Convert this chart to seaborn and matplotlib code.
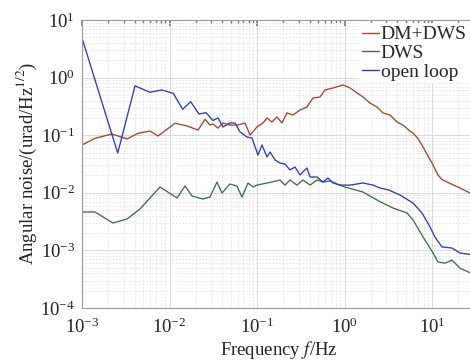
import numpy as np
import pandas as pd
import matplotlib
matplotlib.use("Agg")
import matplotlib.pyplot as plt
import seaborn as sns
from matplotlib.ticker import LogLocator, NullFormatter

# ---- data ----
f_dm = [0.001, 0.00141, 0.0022, 0.00327, 0.00437, 0.00598, 0.0074, 0.01156, 0.0158, 0.0212,
        0.0255, 0.029, 0.0314, 0.0358, 0.0408, 0.049, 0.0606, 0.0729, 0.0832, 0.1,
        0.117, 0.130, 0.148, 0.169, 0.193, 0.220, 0.258, 0.310, 0.372, 0.436,
        0.525, 0.598, 0.739, 0.962, 1.156, 1.39, 1.63, 1.95, 2.35, 2.75,
        3.31, 3.98, 4.66, 5.6, 6.07, 6.9, 7.9, 8.9, 10.0, 11.7, 13.0, 14.8, 20.9, 27.2]
v_dm = [0.0676, 0.0883, 0.105, 0.086, 0.108, 0.118, 0.097, 0.161, 0.145, 0.123,
        0.189, 0.150, 0.156, 0.133, 0.163, 0.150, 0.150, 0.163, 0.1007, 0.139,
        0.163, 0.199, 0.170, 0.207, 0.163, 0.243, 0.224, 0.274, 0.309, 0.442,
        0.46, 0.61, 0.66, 0.745, 0.66, 0.541, 0.46, 0.362, 0.309, 0.243,
        0.224, 0.170, 0.150, 0.118, 0.109, 0.088, 0.0624, 0.045, 0.0329, 0.0204, 0.017, 0.0154, 0.0121, 0.0099]

f_dws = [0.001, 0.00141, 0.00226, 0.00327, 0.0046, 0.00778, 0.0122, 0.01503, 0.0181, 0.0241,
         0.029, 0.0349, 0.0398, 0.049, 0.059, 0.0674, 0.0789, 0.090, 0.1, 0.130,
         0.148, 0.183, 0.209, 0.238, 0.286, 0.336, 0.404, 0.485, 0.568, 0.683,
         1.01, 1.63, 2.55, 3.58, 5.18, 6.07, 7.9, 10.3, 11.7, 14.1, 16.9, 20.9, 27.2]
v_dws = [0.00464, 0.00464, 0.00299, 0.00351, 0.00523, 0.0126, 0.00813, 0.0131, 0.0088, 0.0078,
         0.00845, 0.0154, 0.0099, 0.0142, 0.0131, 0.00845, 0.0148, 0.0126, 0.0136, 0.0148,
         0.0154, 0.0167, 0.0136, 0.0167, 0.0136, 0.0167, 0.0136, 0.0167, 0.0154, 0.016,
         0.0126, 0.0103, 0.0070, 0.00545, 0.00446, 0.00337, 0.00171, 0.0009, 0.00063, 0.0006, 0.00068, 0.00049, 0.00041]

f_ol = [0.001, 0.00256, 0.00404, 0.00598, 0.00815, 0.01104, 0.01416, 0.01747, 0.0217, 0.0261,
        0.0314, 0.0358, 0.0408, 0.0491, 0.0561, 0.064, 0.0769, 0.0877, 0.1026, 0.114,
        0.130, 0.141, 0.161, 0.183, 0.209, 0.238, 0.272, 0.310, 0.372, 0.404,
        0.485, 0.568, 0.648, 0.739, 0.889, 1.156, 1.627, 2.12, 2.55, 3.2,
        4.3, 6.07, 7.69, 9.5, 10.8, 13.0, 16.9, 20.9, 27.2]
v_ol = [4.87, 0.049, 0.72, 0.556, 0.61, 0.533, 0.282, 0.382, 0.233, 0.246,
        0.18, 0.20, 0.139, 0.163, 0.163, 0.114, 0.093, 0.0893, 0.0453, 0.0676,
        0.0419, 0.0511, 0.0371, 0.0329, 0.0316, 0.0249, 0.0281, 0.0204, 0.027, 0.0188,
        0.0188, 0.0154, 0.0181, 0.0148, 0.0136, 0.0136, 0.0148, 0.0136, 0.0121, 0.0112,
        0.00917, 0.00665, 0.00446, 0.00255, 0.00171, 0.00115, 0.0011, 0.0009, 0.00085]

labels = ["DM+DWS", "DWS", "open loop"]
colors = ["#a5442a", "#3a6e4e", "#2a3cba"]

df = pd.concat([
    pd.DataFrame({"f": f_dm, "v": v_dm, "series": labels[0]}),
    pd.DataFrame({"f": f_dws, "v": v_dws, "series": labels[1]}),
    pd.DataFrame({"f": f_ol, "v": v_ol, "series": labels[2]}),
], ignore_index=True)

sns.set_theme(style="white")
plt.rcParams["font.family"] = ["Liberation Serif", "DejaVu Serif"]
plt.rcParams["mathtext.fontset"] = "stix"

fig = plt.figure(figsize=(4.70, 3.61), dpi=100)
ax = fig.add_axes([82/470, 1 - 308/361, (476 - 82)/470, 288/361])

sns.lineplot(data=df, x="f", y="v", hue="series", palette=dict(zip(labels, colors)),
             estimator=None, sort=False, linewidth=0.95, ax=ax)

ax.set_xscale("log")
ax.set_yscale("log")
ax.set_xlim(1e-3, 10 ** ((476 - 82) / 87.5 - 3))
ax.set_ylim(1e-4, 1e1)

ax.xaxis.set_major_locator(LogLocator(base=10, numticks=10))
ax.xaxis.set_minor_locator(LogLocator(base=10, subs=np.arange(2, 10), numticks=20))
ax.yaxis.set_major_locator(LogLocator(base=10, numticks=10))
ax.yaxis.set_minor_locator(LogLocator(base=10, subs=np.arange(2, 10), numticks=20))
ax.xaxis.set_minor_formatter(NullFormatter())
ax.yaxis.set_minor_formatter(NullFormatter())

ax.grid(True, which="major", color="#d9d9d9", linewidth=0.7, linestyle="-")
ax.grid(True, which="minor", color="#e2e2e2", linewidth=0.6, linestyle=(0, (2, 2)))
ax.set_axisbelow(True)

for s in ax.spines.values():
    s.set_color("#9a9a9a")
    s.set_linewidth(0.8)

ax.tick_params(which="both", direction="in", top=True, right=True, colors="#7a7a7a",
               labelcolor="#222222", labelsize=13.5)
ax.tick_params(axis="x", which="major", pad=7)
ax.tick_params(axis="y", which="major", pad=5)
ax.tick_params(which="major", length=4)
ax.tick_params(which="minor", length=2)

ax.set_xlabel("Frequency $f$/Hz", fontsize=13.5, color="#222222", labelpad=1)
ax.set_ylabel("Angular noise/(urad/Hz$^{1/2}$)", fontsize=13.5, color="#222222", labelpad=1)

leg = ax.legend(loc="upper right", bbox_to_anchor=(0.984, 0.99), fontsize=14,
                handlelength=0.85, handletextpad=0.1, labelspacing=0.05, borderpad=0.15,
                borderaxespad=0.0, frameon=True, fancybox=False)
leg.get_frame().set_facecolor("white")
leg.get_frame().set_edgecolor("none")
leg.get_frame().set_alpha(1.0)
for line in leg.get_lines():
    line.set_linewidth(1.0)

fig.savefig("out.png", dpi=100)
